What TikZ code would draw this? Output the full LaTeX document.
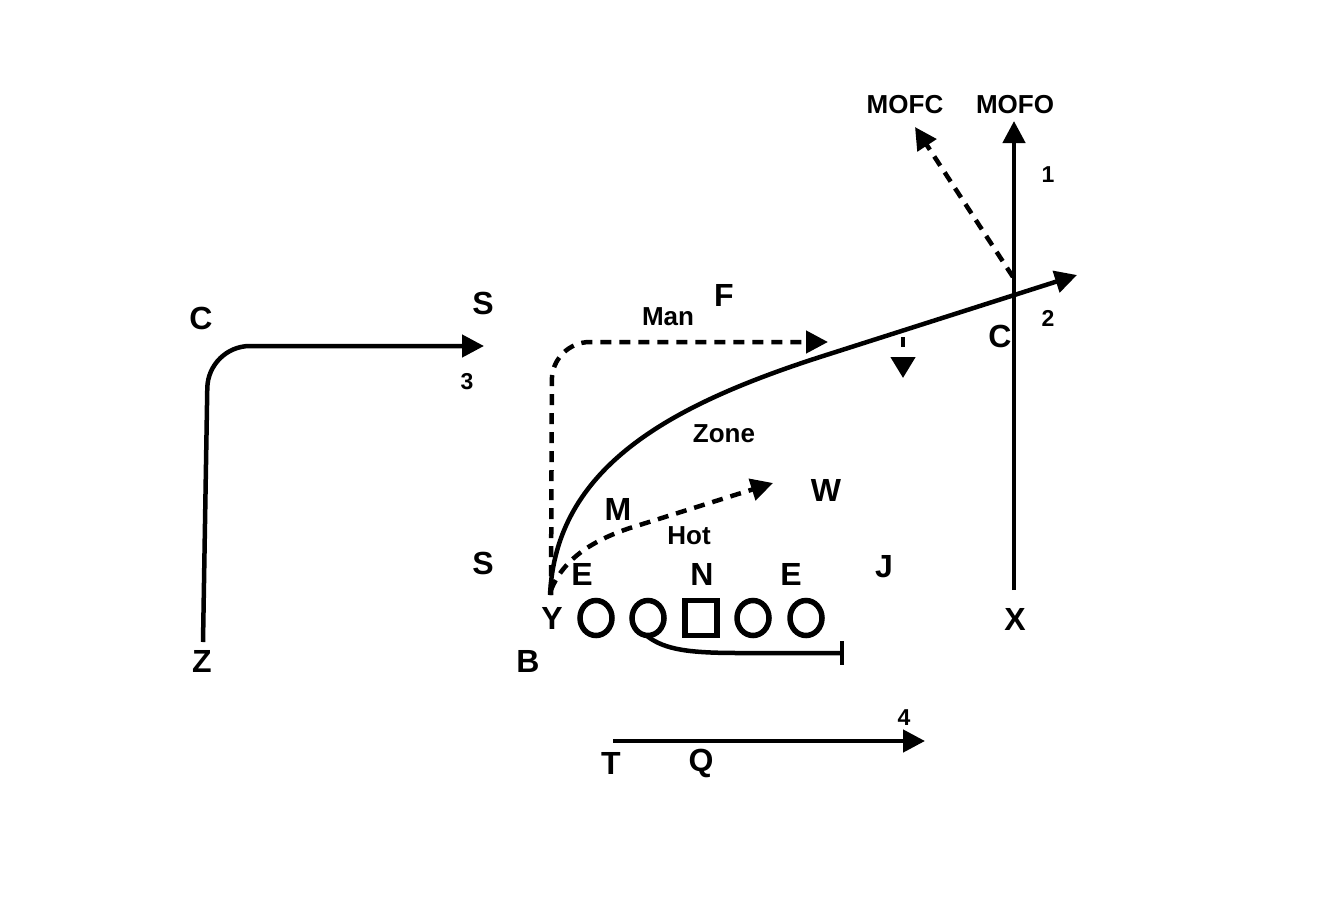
\documentclass[tikz,border=0pt]{standalone}
\usepackage{fontspec}
\setmainfont{Liberation Sans}
\usetikzlibrary{arrows.meta,shapes.geometric}
\begin{document}
\begin{tikzpicture}[x=1pt,y=-1pt,line width=4.5pt,
  big/.style={font=\bfseries\fontsize{32}{32}\selectfont,inner sep=0pt},
  lbl/.style={font=\bfseries\fontsize{26}{26}\selectfont,inner sep=0pt},
  num/.style={font=\bfseries\fontsize{23}{23}\selectfont,inner sep=0pt},
  arr/.style={-{Triangle[length=22pt,width=22pt]}},
  rdash/.style={dash pattern=on 11pt off 8pt},
  lineman/.style={ellipse,draw,line width=5.5pt,minimum width=32pt,minimum height=35pt,inner sep=0pt},
  center/.style={rectangle,draw,line width=5.5pt,minimum width=32pt,minimum height=35pt,inner sep=0pt}]
\useasboundingbox (0,0) rectangle (1321,897);
% labels
\node[lbl] (mofc) at (905,105) {MOFC};
\node[lbl] (mofo) at (1015,105) {MOFO};
\node[num] (n1) at (1048,175) {1};
\node[num] (n2) at (1048,318) {2};
\node[num] (n3) at (467,382) {3};
\node[num] (n4) at (904,718) {4};
\node[lbl] (man) at (668,317) {Man};
\node[lbl] (zone) at (724,434) {Zone};
\node[lbl] (hot) at (689,536) {Hot};
% players
\node[big] (cl) at (201,318) {C};
\node[big] (st) at (483,303) {S};
\node[big] (f) at (724,295) {F};
\node[big] (cr) at (1000,336) {C};
\node[big] (w) at (826,490) {W};
\node[big] (m) at (618,509) {M};
\node[big] (sl) at (483,563) {S};
\node[big] (e1) at (582,574) {E};
\node[big] (n) at (702,574) {N};
\node[big] (e2) at (791,574) {E};
\node[big] (j) at (884,567) {J};
\node[big] (y) at (552,618) {Y};
\node[big] (x) at (1015,619) {X};
\node[big] (z) at (202,661) {Z};
\node[big] (b) at (528,661) {B};
\node[big] (t) at (611,763) {T};
\node[big] (q) at (701,763) {Q};
% offensive line
\node[lineman] (g1) at (596,618) {};
\node[lineman] (g2) at (648,618) {};
\node[center] (c0) at (701,618) {};
\node[lineman] (g4) at (753,618) {};
\node[lineman] (g5) at (806,618) {};
% route points
\coordinate (zs) at (203,642);
\coordinate (zc) at (208,346);
\coordinate (ze) at (484,346);
\coordinate (xs) at (1014,590);
\coordinate (xe) at (1014,121);
\coordinate (ms) at (1013,277);
\coordinate (me) at (915,127);
\coordinate (ys) at (550,595);
\coordinate (yk) at (820,357);
\coordinate (ye) at (1077,275);
\coordinate (hs) at (551,590);
\coordinate (hk) at (630,528);
\coordinate (he) at (773,483);
\coordinate (mns) at (551,595);
\coordinate (mnc) at (552,342);
\coordinate (mne) at (828,342);
\coordinate (ds) at (903,337);
\coordinate (de) at (903,378);
\coordinate (ts) at (613,741);
\coordinate (te) at (925,741);
\coordinate (bs) at (647,636);
\coordinate (bk) at (740,653);
\coordinate (be) at (842,653);
% routes
\draw[arr,rounded corners=42pt] (zs) -- (zc) -- (ze);
\draw[arr] (xs) -- (xe);
\draw[arr,rdash] (ms) -- (me);
\draw[arr] (ys) .. controls (556,468) and (668,406) .. (yk) -- (ye);
\draw[arr,rdash] (hs) .. controls (565,555) and (600,538) .. (hk) -- (he);
\draw[arr,rdash,rounded corners=38pt] (mns) -- (mnc) -- (mne);
\draw[dash pattern=on 10pt off 10pt,-{Triangle[length=21pt,width=24pt]}] (ds) -- (de);
\draw[arr] (ts) -- (te);
\draw (bs) .. controls (665,650) and (690,653) .. (bk) -- (be);
\draw (be) ++(0,-12) -- ++(0,24);
\end{tikzpicture}
\end{document}
